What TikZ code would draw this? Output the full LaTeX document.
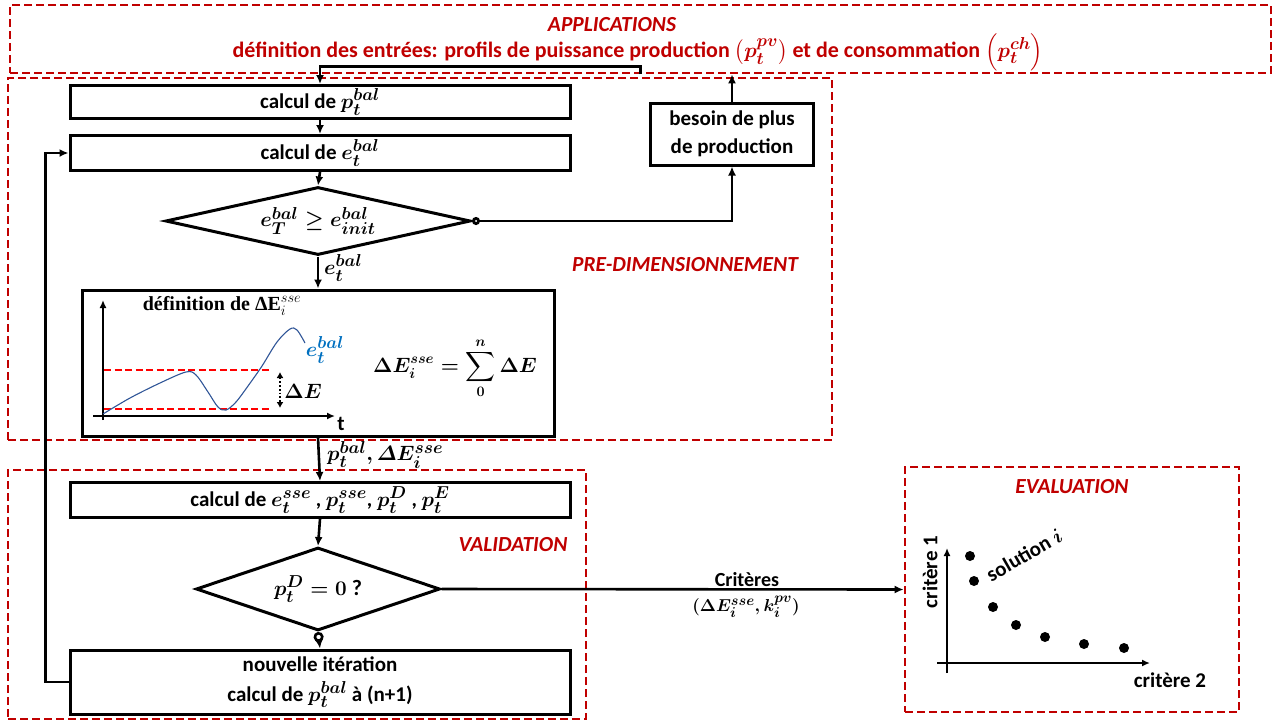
\documentclass[tikz,border=0pt]{standalone}
\usepackage{amsmath}
\usepackage{bm}
\usepackage{fontspec}
\setmainfont{Carlito}
\newfontfamily\serifb{Liberation Serif}
\usetikzlibrary{shapes.geometric,arrows.meta}
\DeclareMathSizes{19}{19}{14.5}{11}
\DeclareMathSizes{20}{20}{15.5}{12}
\DeclareMathSizes{21}{21}{16}{12.5}
\DeclareMathSizes{22}{22}{17}{13}
\definecolor{dred}{HTML}{C00000}
\definecolor{bred}{HTML}{FF0000}
\definecolor{cblue}{HTML}{2F5597}
\definecolor{lblue}{HTML}{0070C0}
\begin{document}
\begin{tikzpicture}[x=1pt,y=-1pt,
  every node/.style={font=\fontsize{21}{25}\selectfont\bfseries\boldmath, inner sep=0pt},
  region/.style={draw=dred, line width=2.8pt, dash pattern=on 8pt off 4pt},
  rlabel/.style={text=dred, font=\fontsize{21.5}{25}\selectfont\bfseries\itshape},
  proc/.style={draw, line width=3pt, align=center},
  dec/.style={draw, diamond, line width=3pt, aspect=4},
  conn/.style={line width=2.6pt, -{Latex[length=9pt,width=8pt]}},
  plain/.style={line width=2.6pt}]
\useasboundingbox (0,0) rectangle (1277,721);

% regions
\node[region, minimum width=1261pt, minimum height=68pt] (app) at (640.5,39) {};
\node[rlabel] at (612,25) {APPLICATIONS};
\node[text=dred, font=\fontsize{22}{26}\selectfont\bfseries\boldmath] at (638,52)
  {définition des entrées: profils de puissance production $\left(p_t^{pv}\right)$ et de consommation $\left(p_t^{ch}\right)$};

\node[region, minimum width=824pt, minimum height=362pt] (pre) at (420,259) {};
\node[rlabel] at (685,265) {PRE-DIMENSIONNEMENT};

\node[region, minimum width=578pt, minimum height=249pt] (val) at (297,594.5) {};
\node[rlabel] at (513,545) {VALIDATION};

\node[region, minimum width=334pt, minimum height=245pt] (ev) at (1072,589.5) {};
\node[rlabel] at (1072,487) {EVALUATION};

% process boxes
\node[proc, minimum width=500pt, minimum height=33pt] (b1) at (320,102) {calcul de $p_t^{bal}$};
\node[proc, minimum width=500pt, minimum height=35pt] (b2) at (320,153) {calcul de $e_t^{bal}$};
\node[dec, minimum width=305pt, minimum height=68pt] (d1) at (318,221) {\fontsize{22}{26}\selectfont$e_T^{bal} \geq e_{init}^{bal}$};
\node[proc, minimum width=163pt, minimum height=62pt, font=\fontsize{21}{28}\selectfont\bfseries] (bes) at (732,134) {besoin de plus\\de production};
\node[proc, minimum width=472pt, minimum height=146pt] (b3) at (318,363) {};

\node[proc, minimum width=500pt, minimum height=35pt] (b4) at (320,500) {calcul de $e_t^{sse}$ , $p_t^{sse}$, $p_t^D$ , $p_t^E$};
\node[dec, minimum width=244pt, minimum height=83pt] (d2) at (318,589) {\fontsize{22}{26}\selectfont$p_t^D = 0$ ?};
\node[proc, minimum width=500pt, minimum height=64pt, font=\fontsize{21}{30}\selectfont\bfseries\boldmath] (b5) at (320,682) {nouvelle itération\\calcul de $p_t^{bal}$ à (n+1)};

% connectors
\draw[conn] (app.south) -- ++(0,-8) -| (b1.north);
\draw[conn] (b1.south) -- (b2.north);
\draw[conn] (b2.south) -- (d1.north);
\draw[line width=2.6pt, {Circle[open,length=8pt,width=8pt]}-{Latex[length=9pt,width=8pt]}] (d1.east) -| (bes.south);
\draw[conn] (bes.north) -- (bes.north |- app.south);
\draw[conn] (d1.south) -- (b3.north);
\node[anchor=west, font=\fontsize{21}{24}\selectfont\boldmath] at (324,268) {$e_t^{bal}$};
\draw[conn] (b3.south) -- (b4.north);
\node[anchor=west, font=\fontsize{21}{24}\selectfont\boldmath] at (327,455) {$p_t^{bal}, \varDelta E_i^{sse}$};
\draw[conn] (b4.south) -- (d2.north);
\draw[line width=2.6pt, {Circle[open,length=10pt,width=10pt]}-{Latex[length=9pt,width=8pt]}] (d2.south) -- (b5.north);
\draw[conn] (b5.west) -- ++(-23,0) |- (b2.west);
\draw[conn] (d2.east) -- (ev.west);
\node[font=\fontsize{20}{24}\selectfont\bfseries] at (747,580) {Critères};
\node[font=\fontsize{19}{24}\selectfont\bfseries\boldmath] at (746,607) {$(\Delta E_i^{sse}, k_i^{pv})$};

% content of b3
\node[font=\fontsize{20}{22}\selectfont\serifb\bfseries] at (222,306) {définition de ΔE$_i^{sse}$};
\draw[line width=2.4pt, -{Latex[length=8pt,width=7pt]}] (103,420) -- (103,300);
\draw[line width=2.4pt, -{Latex[length=8pt,width=7pt]}] (93,416) -- (335,416);
\node[font=\fontsize{21}{24}\selectfont\bfseries] at (341,424) {t};
\draw[bred, line width=2pt, dash pattern=on 7pt off 3.5pt] (104,370) -- (271,370);
\draw[bred, line width=2pt, dash pattern=on 7pt off 3.5pt] (104,409) -- (271,409);
\draw[cblue, line width=1.1pt] plot[smooth, tension=0.55] coordinates {(103,414) (130,398) (160,383) (186,372) (196,375) (208,392) (218,407) (226,410) (236,402) (248,386) (262,366) (277,342) (290,329) (297,330) (305,343)};
\node[text=lblue, font=\fontsize{22}{24}\selectfont\boldmath] at (325,350) {$e_t^{bal}$};
\draw[line width=1.8pt, dotted, {Latex[length=6pt,width=7pt]}-{Latex[length=6pt,width=7pt]}] (280,372) -- (280,408);
\node[font=\fontsize{21}{24}\selectfont\boldmath] at (303,391) {$\Delta E$};
\node[font=\fontsize{20}{24}\selectfont\boldmath] at (455,368) {$\displaystyle \Delta E_i^{sse} = \sum_{0}^{n} \Delta E$};

% content of evaluation
\draw[line width=2.4pt, -{Latex[length=8pt,width=7pt]}] (947,673) -- (947,548);
\draw[line width=2.4pt, -{Latex[length=8pt,width=7pt]}] (937,663) -- (1150,663);
\node at (1170,680) {critère 2};
\node[rotate=90] at (930,572) {critère 1};
\node[rotate=30] at (1024,555) {solution $i$};
\foreach \p in {(970,556),(974,581),(993,607),(1016,625),(1045,637),(1084,644),(1124,648)}
  \fill \p circle (5pt);
\end{tikzpicture}
\end{document}
